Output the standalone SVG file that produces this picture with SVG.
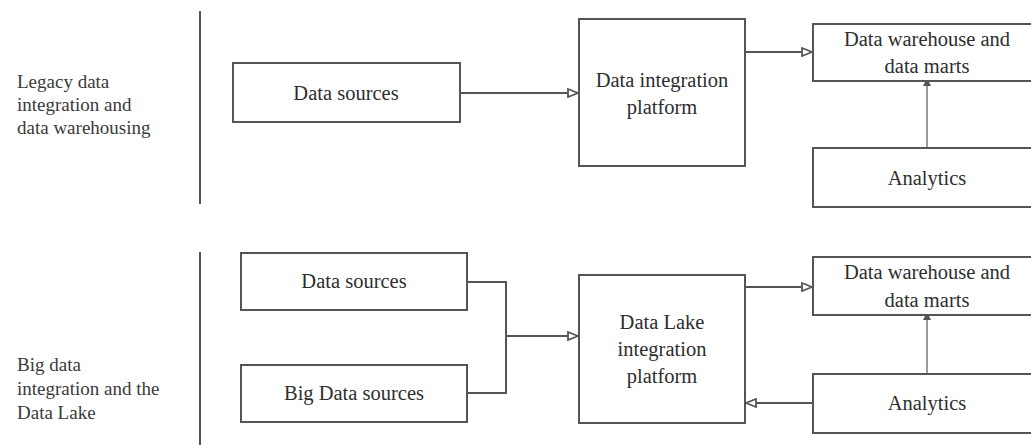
<svg xmlns="http://www.w3.org/2000/svg" width="1031" height="445" viewBox="0 0 1031 445">
  <style>
    .box { fill: #ffffff; stroke: #555555; stroke-width: 2; }
    .lbl { font-family: "Liberation Serif", "DejaVu Serif", serif; font-size: 20.5px; fill: #2e2e2e; text-anchor: middle; }
    .side { font-family: "Liberation Serif", "DejaVu Serif", serif; font-size: 19px; fill: #3a3a3a; }
    .divider { stroke: #555555; stroke-width: 2; }
    .flow { fill: none; stroke: #555555; stroke-width: 2; }
    .flow-open { fill: none; stroke: #555555; stroke-width: 2; marker-end: url(#open); }
    .flow-light { fill: none; stroke: #9a9a9a; stroke-width: 2; marker-end: url(#solid); }
  </style>
  <defs>
    <marker id="open" viewBox="0 0 12 10" refX="11" refY="5" markerWidth="12" markerHeight="10" markerUnits="userSpaceOnUse" orient="auto">
      <path d="M1,1 L11,5 L1,9 Z" fill="#ffffff" stroke="#555555" stroke-width="1.8"/>
    </marker>
    <marker id="solid" viewBox="0 0 8 10" refX="4" refY="5" markerWidth="8" markerHeight="10" markerUnits="userSpaceOnUse" orient="auto">
      <path d="M0,1 L8,5 L0,9 Z" fill="#555555"/>
    </marker>
  </defs>

  <rect width="1031" height="445" fill="#ffffff"/>

  <!-- section labels and dividers -->
  <g id="legacy-label">
    <text class="side" x="17" y="88">Legacy data</text>
    <text class="side" x="17" y="111">integration and</text>
    <text class="side" x="17" y="134">data warehousing</text>
  </g>
  <g id="bigdata-label">
    <text class="side" x="17" y="371">Big data</text>
    <text class="side" x="17" y="395">integration and the</text>
    <text class="side" x="17" y="419">Data Lake</text>
  </g>
  <line class="divider" x1="200" y1="11" x2="200" y2="204"/>
  <line class="divider" x1="200" y1="252" x2="200" y2="445"/>

  <!-- connectors -->
  <g id="connectors">
    <path class="flow-open" d="M460,93 H578"/>
    <path class="flow-open" d="M745,52 H812"/>
    <path class="flow-light" d="M927,148 V82"/>
    <path class="flow" d="M467,282 H506 V393 H467"/>
    <path class="flow-open" d="M506,336 H578"/>
    <path class="flow-open" d="M745,287 H812"/>
    <path class="flow-light" d="M927,374 V316"/>
    <path class="flow-open" d="M813,403 H746"/>
  </g>

  <!-- legacy flow -->
  <g id="legacy-sources">
    <rect class="box" x="233" y="63" width="227" height="59"/>
    <text class="lbl" x="346" y="100">Data sources</text>
  </g>
  <g id="legacy-platform">
    <rect class="box" x="579" y="19" width="166" height="147"/>
    <text class="lbl" x="662" y="87">Data integration</text>
    <text class="lbl" x="662" y="114">platform</text>
  </g>
  <g id="legacy-warehouse">
    <rect class="box" x="813" y="24" width="228" height="57"/>
    <text class="lbl" x="927" y="46">Data warehouse and</text>
    <text class="lbl" x="927" y="73">data marts</text>
  </g>
  <g id="legacy-analytics">
    <rect class="box" x="813" y="148" width="228" height="59"/>
    <text class="lbl" x="927" y="185">Analytics</text>
  </g>

  <!-- data lake flow -->
  <g id="lake-sources">
    <rect class="box" x="241" y="253" width="226" height="57"/>
    <text class="lbl" x="354" y="288">Data sources</text>
  </g>
  <g id="lake-bigdata-sources">
    <rect class="box" x="241" y="365" width="226" height="57"/>
    <text class="lbl" x="354" y="400">Big Data sources</text>
  </g>
  <g id="lake-platform">
    <rect class="box" x="579" y="275" width="166" height="148"/>
    <text class="lbl" x="662" y="329">Data Lake</text>
    <text class="lbl" x="662" y="356">integration</text>
    <text class="lbl" x="662" y="383">platform</text>
  </g>
  <g id="lake-warehouse">
    <rect class="box" x="813" y="257" width="228" height="58"/>
    <text class="lbl" x="927" y="279">Data warehouse and</text>
    <text class="lbl" x="927" y="307">data marts</text>
  </g>
  <g id="lake-analytics">
    <rect class="box" x="813" y="374" width="228" height="59"/>
    <text class="lbl" x="927" y="410">Analytics</text>
  </g>
</svg>
